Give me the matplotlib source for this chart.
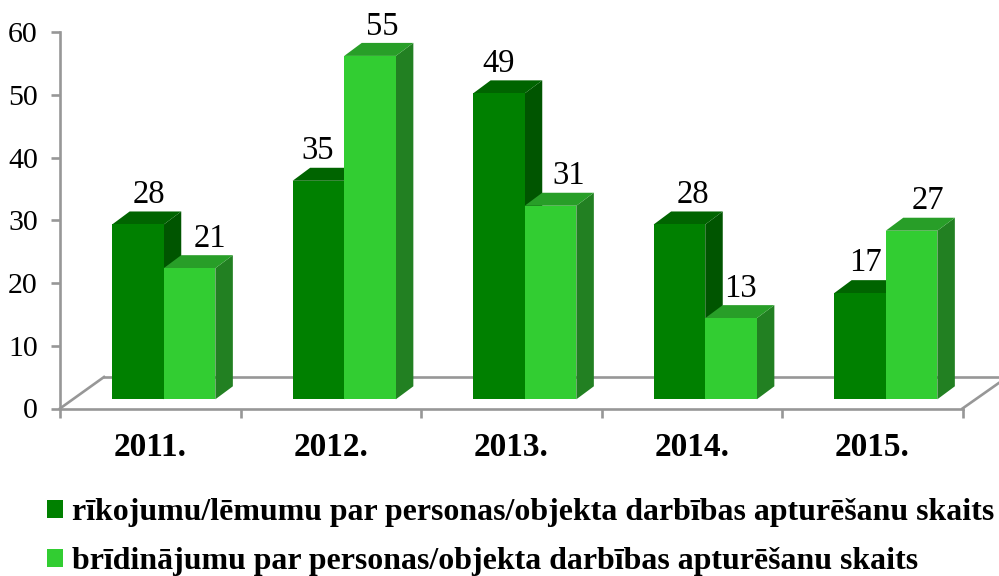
import matplotlib
matplotlib.use('Agg')
import matplotlib.pyplot as plt
from matplotlib.patches import Polygon, Rectangle

years = ['2011.', '2012.', '2013.', '2014.', '2015.']
orders = [28, 35, 49, 28, 17]
warnings = [21, 55, 31, 13, 27]
order_label = 'rīkojumu/lēmumu par personas/objekta darbības apturēšanu skaits'
warning_label = 'brīdinājumu par personas/objekta darbības apturēšanu skaits'
y_ticks = [0, 10, 20, 30, 40, 50, 60]

# label nudges in pixels, the 3d chart places them a bit unevenly
order_nudge = [11, -1, 0, 13, 6]
warning_nudge = [20, 12, 18, 9, 16]

W, H = 999, 576
X0, X1 = 60, 962.5
Y0, Y1 = 408.5, 32
GRAY = '#979797'

plt.rcParams['font.family'] = ['Liberation Serif', 'DejaVu Serif']
fig = plt.figure(figsize=(W / 100, H / 100), dpi=100)
ax = fig.add_axes([X0 / W, 1 - Y0 / H, (X1 - X0) / W, (Y0 - Y1) / H])
ax.set_xlim(0, 5)
ax.set_ylim(0, 60)

px_x = 5 / (X1 - X0)
px_y = 60 / (Y0 - Y1)
depth_x, depth_y = 17.5 * px_x, 13 * px_y
base = 9.2 * px_y
bar_w = 51.6 * px_x
shift = 13.5 * px_x


def draw_bar(left, value, front, top, side, z):
    right = left + bar_w
    high = base + value * 0.995
    ax.add_patch(Polygon([(right, base), (right + depth_x, base + depth_y),
                          (right + depth_x, high + depth_y), (right, high)],
                         fc=side, ec='none', zorder=z, clip_on=False))
    ax.add_patch(Polygon([(left, high), (left + depth_x, high + depth_y),
                          (right + depth_x, high + depth_y), (right, high)],
                         fc=top, ec='none', zorder=z, clip_on=False))
    ax.add_patch(Rectangle((left, base), bar_w, high - base,
                           fc=front, ec='none', zorder=z + 0.1, clip_on=False))
    return high


for i, year in enumerate(years):
    mid = i + 0.5 + shift
    high = draw_bar(mid - bar_w, orders[i], '#008000', '#006400', '#005500', 3)
    ax.annotate(str(orders[i]), (mid - bar_w / 2, high), xytext=(order_nudge[i] * 0.72, 30 * 0.72),
                textcoords='offset points', ha='center', va='center', fontsize=23.5, zorder=6)
    high = draw_bar(mid, warnings[i], '#32CD32', '#289E28', '#228022', 4)
    ax.annotate(str(warnings[i]), (mid + bar_w / 2, high), xytext=(warning_nudge[i] * 0.72, 29.5 * 0.72),
                textcoords='offset points', ha='center', va='center', fontsize=23.5, zorder=6)

# floor of the 3d box
floor_x = 44 * px_x
floor_y = 31.5 * px_y
ax.plot([0, floor_x], [0, floor_y], color=GRAY, lw=1.9, clip_on=False, zorder=1)
ax.plot([floor_x, 5 + 37 * px_x], [floor_y, floor_y], color=GRAY, lw=1.9, clip_on=False, zorder=1)
ax.plot([5, 5 + 37 * px_x], [0, 26 * px_y], color=GRAY, lw=1.9, clip_on=False, zorder=1)

for name in ['top', 'right']:
    ax.spines[name].set_visible(False)
for name in ['left', 'bottom']:
    ax.spines[name].set_color(GRAY)
    ax.spines[name].set_linewidth(1.9)
ax.set_yticks(y_ticks)
ax.set_xticks(range(6))
ax.set_xticklabels([])
ax.tick_params(axis='both', color=GRAY, width=1.9, length=6.5, labelsize=21.5, pad=9.5)
for i, year in enumerate(years):
    ax.annotate(year, (i + 0.5, 0), xytext=(0, -28), textcoords='offset points', ha='center', va='center',
                fontsize=24, fontweight='bold')

handles = [Rectangle((0, 0), 1, 1, fc='#008000'), Rectangle((0, 0), 1, 1, fc='#32CD32')]
fig.legend(handles, [order_label, warning_label], loc='upper left', bbox_to_anchor=(47 / W, 1 - 498 / H),
           frameon=False, borderpad=0, borderaxespad=0, handlelength=0.5, handleheight=0.5, handletextpad=0.27,
           labelspacing=0.63, prop={'size': 22.95, 'weight': 'bold'})

fig.savefig('out.png', dpi=100)
